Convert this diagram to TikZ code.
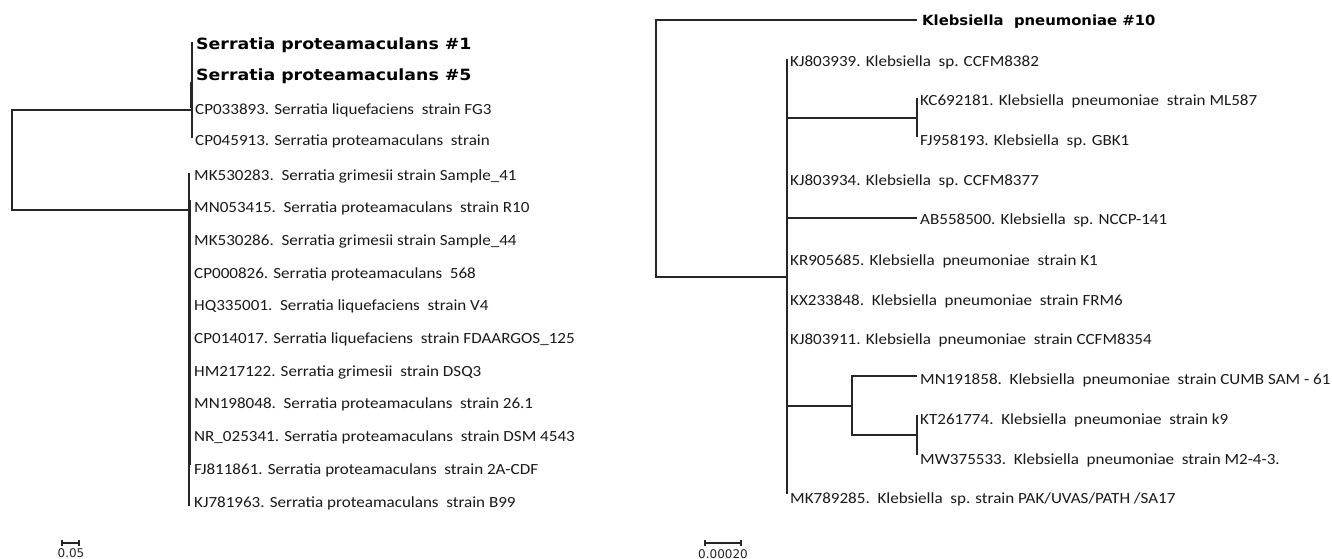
\documentclass[tikz,border=0pt]{standalone}
\usepackage{fontspec}
\setmainfont{Carlito}[FakeStretch=1.1]
\newfontfamily\bldlab{DejaVu Sans}[FakeStretch=1.06]
\newfontfamily\bldlabL{DejaVu Sans}[FakeStretch=1.12]
\newfontfamily\sclab{DejaVu Sans}
\begin{document}
\begin{tikzpicture}[x=1pt,y=-1pt,
  br/.style={line width=1.8pt, draw=black!85},
  lab/.style={anchor=west, inner sep=0pt, text height=10pt, text depth=0pt, font=\fontsize{15.5}{16}\selectfont, text=black!90},
  blab/.style={anchor=west, inner sep=0pt, text height=10pt, text depth=0pt, font=\bldlab\bfseries\fontsize{14}{15}\selectfont, text=black},
  blabL/.style={anchor=west, inner sep=0pt, text height=10.5pt, text depth=0pt, font=\bldlabL\bfseries\fontsize{15.5}{16}\selectfont, text=black},
  sbar/.style={line width=1.3pt, draw=black!85},
  slab/.style={inner sep=0pt, font=\sclab\fontsize{12}{13}\selectfont, text=black!85}]
\useasboundingbox (0,0) rectangle (1332,559);

% ---------------- Left tree ----------------
\coordinate (Lroot) at (12,160);
\coordinate (LA) at (192,110);
\coordinate (LB) at (189,210);
\draw[br] (LA) -| (Lroot) |- (LB);

\coordinate (la1) at (192,42);
\coordinate (la4) at (192,138);
\draw[br] (la1) -- (la4);
\coordinate (la2) at (190.5,82);
\coordinate (la3) at (190.5,108);
\draw[br] (la2) -- (la3);

\node[blabL] (l1) at (196,44) {Serratia proteamaculans \#1};
\node[blabL] (l2) at (196,75) {Serratia proteamaculans \#5};
\node[lab] (l3) at (195,109) {CP033893. Serratia liquefaciens\ \ strain FG3};
\node[lab] (l4) at (195,140) {CP045913. Serratia proteamaculans\ \ strain};

\coordinate (lb1) at (189,173);
\coordinate (lb11) at (189,506);
\draw[br] (lb1) -- (lb11);
\coordinate (lb2) at (190.5,200);
\coordinate (lb3) at (190.5,465);
\draw[br] (lb2) -- (lb3);

\node[lab] (m1)  at (194,175.0) {MK530283.\ \ Serratia grimesii strain Sample\_41};
\node[lab] (m2)  at (194,207.7) {MN053415.\ \ Serratia proteamaculans\ \ strain R10};
\node[lab] (m3)  at (194,240.4) {MK530286.\ \ Serratia grimesii strain Sample\_44};
\node[lab] (m4)  at (194,273.1) {CP000826. Serratia proteamaculans\ \ 568};
\node[lab] (m5)  at (194,305.8) {HQ335001.\ \ Serratia liquefaciens\ \ strain V4};
\node[lab] (m6)  at (194,338.5) {CP014017. Serratia liquefaciens\ \ strain FDAARGOS\_125};
\node[lab] (m7)  at (194,371.2) {HM217122. Serratia grimesii\ \ strain DSQ3};
\node[lab] (m8)  at (194,403.9) {MN198048.\ \ Serratia proteamaculans\ \ strain 26.1};
\node[lab] (m9)  at (194,436.6) {NR\_025341. Serratia proteamaculans\ \ strain DSM 4543};
\node[lab] (m10) at (194,469.3) {FJ811861. Serratia proteamaculans\ \ strain 2A-CDF};
\node[lab] (m11) at (194,502.0) {KJ781963. Serratia proteamaculans\ \ strain B99};

% scale bar left
\coordinate (sl1) at (62,543);
\coordinate (sl2) at (79,543);
\draw[sbar] (sl1) -- (sl2);
\draw[sbar] ([yshift=-3pt]sl1) -- ([yshift=3pt]sl1);
\draw[sbar] ([yshift=-3pt]sl2) -- ([yshift=3pt]sl2);
\node[slab] (sln) at (71,553) {0.05};

% ---------------- Right tree ----------------
\coordinate (Rroot) at (656,150);
\coordinate (Rtop) at (917,20);
\coordinate (RB) at (787,277);
\draw[br] (Rtop) -| (Rroot) |- (RB);
\node[blab] (k10) at (922,21) {Klebsiella\ \ pneumoniae \#10};

\coordinate (rb1) at (787,59);
\coordinate (rb2) at (787,494);
\draw[br] (rb1) -- (rb2);

\coordinate (rc) at (917,118);
\draw[br] (rb1 |- rc) -- (rc);
\coordinate (rc1) at (917,98);
\coordinate (rc2) at (917,137);
\draw[br] (rc1) -- (rc2);

\coordinate (rab) at (917,218);
\draw[br] (rb1 |- rab) -- (rab);

\coordinate (rd) at (852,406);
\draw[br] (rb1 |- rd) -- (rd);
\coordinate (rd1) at (917,376);
\coordinate (rd2) at (917,435);
\draw[br] (rd1) -| (rd) |- (rd2);
\coordinate (re1) at (917,415);
\coordinate (re2) at (917,455);
\draw[br] (re1) -- (re2);

\node[lab] (n1)  at (790,62)  {KJ803939. Klebsiella\ \ sp. CCFM8382};
\node[lab] (n2)  at (920,101) {KC692181. Klebsiella\ \ pneumoniae\ \ strain ML587};
\node[lab] (n3)  at (920,140) {FJ958193. Klebsiella\ \ sp. GBK1};
\node[lab] (n4)  at (790,180) {KJ803934. Klebsiella\ \ sp. CCFM8377};
\node[lab] (n5)  at (920,219) {AB558500. Klebsiella\ \ sp. NCCP-141};
\node[lab] (n6)  at (790,260) {KR905685. Klebsiella\ \ pneumoniae\ \ strain K1};
\node[lab] (n7)  at (790,300) {KX233848.\ \ Klebsiella\ \ pneumoniae\ \ strain FRM6};
\node[lab] (n8)  at (790,339) {KJ803911. Klebsiella\ \ pneumoniae\ \ strain CCFM8354};
\node[lab] (n9)  at (920,379) {MN191858.\ \ Klebsiella\ \ pneumoniae\ \ strain CUMB SAM - 61};
\node[lab] (n10) at (920,419) {KT261774.\ \ Klebsiella\ \ pneumoniae\ \ strain k9};
\node[lab] (n11) at (920,459) {MW375533.\ \ Klebsiella\ \ pneumoniae\ \ strain M2-4-3.};
\node[lab] (n12) at (790,498) {MK789285.\ \ Klebsiella\ \ sp. strain PAK/UVAS/PATH /SA17};

% scale bar right
\coordinate (sr1) at (705,543);
\coordinate (sr2) at (741,543);
\draw[sbar] (sr1) -- (sr2);
\draw[sbar] ([yshift=-3pt]sr1) -- ([yshift=3pt]sr1);
\draw[sbar] ([yshift=-3pt]sr2) -- ([yshift=3pt]sr2);
\node[slab] (srn) at (723,554) {0.00020};
\end{tikzpicture}
\end{document}
